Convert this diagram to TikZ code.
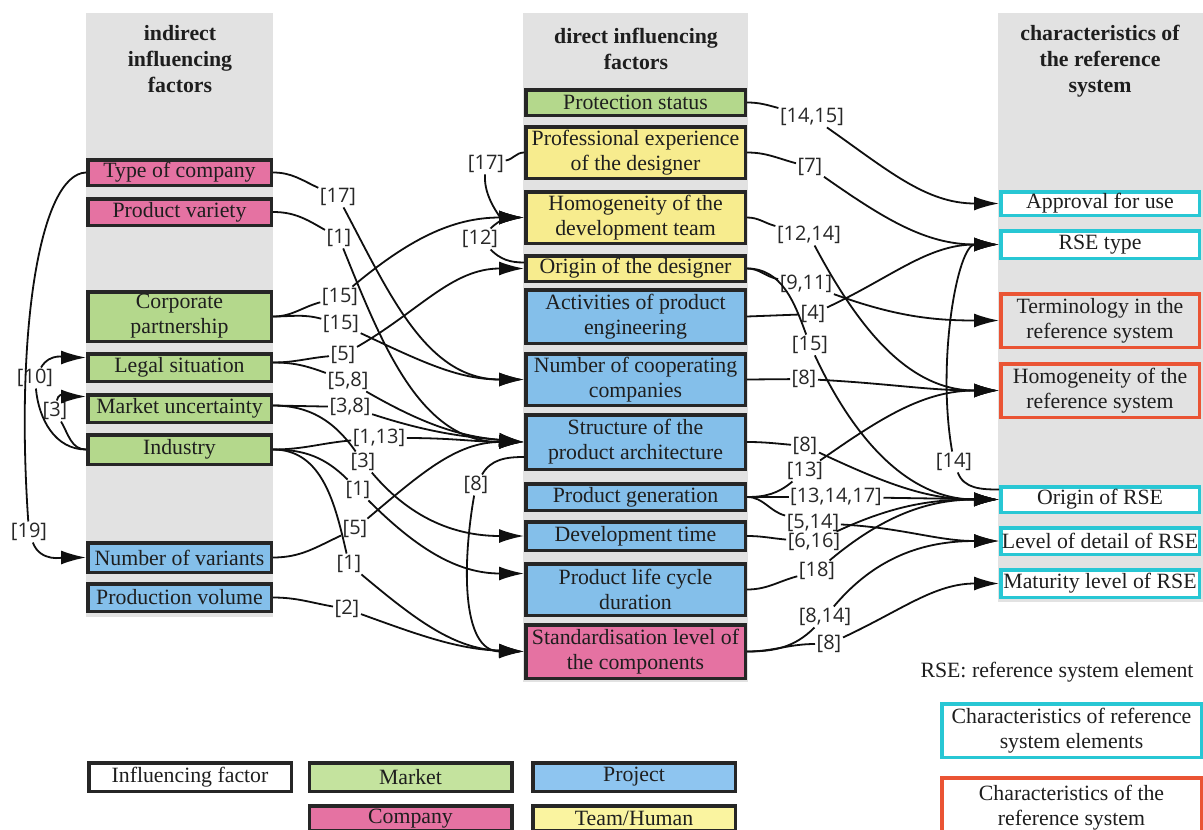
\documentclass[tikz,border=0pt]{standalone}
\usepackage{fontspec}
\setmainfont{Liberation Serif}
\newfontfamily\labfont{Open Sans}
\usetikzlibrary{arrows.meta}
\definecolor{cgreen}{RGB}{180,216,140}
\definecolor{cpink}{RGB}{229,114,162}
\definecolor{cblue}{RGB}{132,191,234}
\definecolor{cyellow}{RGB}{247,236,142}
\definecolor{lgreen}{RGB}{196,227,158}
\definecolor{lblue}{RGB}{142,197,240}
\definecolor{lyellow}{RGB}{250,244,160}
\definecolor{ccyan}{RGB}{40,199,212}
\definecolor{cred}{RGB}{234,84,52}
\definecolor{cgrey}{RGB}{226,226,226}
\definecolor{cborder}{RGB}{38,38,38}
\definecolor{ctext}{RGB}{30,30,30}
\definecolor{clab}{RGB}{40,40,40}
\definecolor{cline}{RGB}{15,15,15}
\tikzset{
  boxtext/.style={font=\fontsize{21.8}{25}\selectfont, text=ctext, align=center, inner sep=0pt},
  fbox/.style={boxtext, draw=cborder, line width=3.5pt},
  lbox/.style={fbox, minimum width=183.5pt},
  mbox/.style={fbox, minimum width=219.5pt},
  cbox/.style={boxtext, draw=ccyan, fill=white, line width=3.5pt, minimum width=198.5pt},
  rbox/.style={boxtext, draw=cred, line width=3.5pt, minimum width=198.5pt},
  legbox/.style={fbox, minimum width=202.5pt, minimum height=28.5pt},
  lab/.style={font=\labfont\fontsize{20}{22}\selectfont, text=clab, inner sep=1.5pt},
  con/.style={draw=cline, line width=1.8pt},
  arr/.style={con, -{Latex[length=25pt,width=14pt]}},
  hdr/.style={font=\bfseries\fontsize{21.8}{26}\selectfont, text=ctext, align=center},
  colbg/.style={fill=cgrey},
}
\begin{document}
\begin{tikzpicture}[x=1pt,y=-1pt]
\useasboundingbox (0,0) rectangle (1203,830);
\fill[white] (0,0) rectangle (1203,830);
\clip (0,0) rectangle (1203,830);
% grey columns
\fill[colbg] (86,13) rectangle (273,617);
\fill[colbg] (523,13) rectangle (748,682);
\fill[colbg] (998,13) rectangle (1203,602);
% headers
\node[hdr] (h1) at (180,59) {indirect\\influencing\\factors};
\node[hdr] (h2) at (636,49) {direct influencing\\factors};
\node[hdr] (h3) at (1100,61) {characteristics of\\the reference\\system};
% left boxes
\node[lbox, fill=cpink, minimum height=25.5pt] (toc) at (179.5,172.5) {Type of company};
\node[lbox, fill=cpink, minimum height=26.5pt] (pv) at (179.5,212) {Product variety};
\node[lbox, fill=cgreen, minimum height=49.5pt] (cp) at (179.5,316.5) {Corporate\\partnership};
\node[lbox, fill=cgreen, minimum height=27.5pt] (ls) at (179.5,367.5) {Legal situation};
\node[lbox, fill=cgreen, minimum height=27.5pt] (mu) at (179.5,408.5) {Market uncertainty};
\node[lbox, fill=cgreen, minimum height=29.5pt] (ind) at (179.5,449.5) {Industry};
\node[lbox, fill=cblue, minimum height=29.5pt] (nv) at (179.5,557.5) {Number of variants};
\node[lbox, fill=cblue, minimum height=27.5pt] (pvol) at (179.5,597.5) {Production volume};
% middle boxes
\node[mbox, fill=cgreen, minimum height=25.5pt] (ps) at (635.5,102.5) {Protection status};
\node[mbox, fill=cyellow, minimum height=51.5pt] (pe) at (635.5,152.5) {Professional experience\\of the designer};
\node[mbox, fill=cyellow, minimum height=51.5pt] (hdt) at (635.5,217.5) {Homogeneity of the\\development team};
\node[mbox, fill=cyellow, minimum height=25.5pt] (od) at (635.5,268.5) {Origin of the designer};
\node[mbox, fill=cblue, minimum height=53.5pt] (ape) at (635.5,316.5) {Activities of product\\engineering};
\node[mbox, fill=cblue, minimum height=51.5pt] (ncc) at (635.5,379.5) {Number of cooperating\\companies};
\node[mbox, fill=cblue, minimum height=54.5pt] (spa) at (635.5,442) {Structure of the\\product architecture};
\node[mbox, fill=cblue, minimum height=26.5pt] (pg) at (635.5,497) {Product generation};
\node[mbox, fill=cblue, minimum height=28.5pt] (dt) at (635.5,536) {Development time};
\node[mbox, fill=cblue, minimum height=51.5pt] (plc) at (635.5,589.5) {Product life cycle\\duration};
\node[mbox, fill=cpink, minimum height=53.5pt] (sl) at (635.5,651.5) {Standardisation level of\\the components};
% right boxes
\node[cbox, minimum height=23.5pt] (afu) at (1100,203.5) {Approval for use};
\node[cbox, minimum height=27.5pt] (rt) at (1100,244.5) {RSE type};
\node[rbox, minimum height=53.5pt] (trs) at (1100,320.5) {Terminology in the\\reference system};
\node[rbox, minimum height=53.5pt] (hrs) at (1100,390.5) {Homogeneity of the\\reference system};
\node[cbox, minimum height=25.5pt] (orse) at (1100,499.5) {Origin of RSE};
\node[cbox, minimum height=26.5pt] (ld) at (1100,541) {Level of detail of RSE};
\node[cbox, minimum height=27.5pt] (ml) at (1100,583.5) {Maturity level of RSE};
% legend
\node[boxtext] (rsenote) at (1057,672) {RSE: reference system element};
\node[cbox, minimum width=259.5pt, minimum height=53.5pt] (lgc) at (1071.5,730.5) {Characteristics of reference\\system elements};
\node[rbox, fill=white, minimum width=259.5pt, minimum height=60pt] (lgr) at (1071.5,808) {Characteristics of the\\reference system};
\node[legbox, fill=white] (lgi) at (190,777) {Influencing factor};
\node[legbox, fill=lgreen] (lgm) at (410.5,777) {Market};
\node[legbox, fill=lblue] (lgp) at (634,777) {Project};
\node[legbox, fill=cpink, minimum height=25pt] (lgco) at (410.5,818.5) {Company};
\node[legbox, fill=lyellow, minimum height=25pt] (lgt) at (634,818.5) {Team/Human};
% labels
\node[lab] (L17) at (338,197) {[17]};
\node[lab] (L1a) at (339,238) {[1]};
\node[lab] (L15a) at (340,297) {[15]};
\node[lab] (L15b) at (341,324) {[15]};
\node[lab] (L5a) at (343,355) {[5]};
\node[lab] (L58) at (348,381) {[5,8]};
\node[lab] (L38) at (350,407) {[3,8]};
\node[lab] (L113) at (379,438) {[1,13]};
\node[lab] (L3) at (363,462) {[3]};
\node[lab] (L1b) at (358,490) {[1]};
\node[lab] (L5b) at (355,529) {[5]};
\node[lab] (L1c) at (349,564) {[1]};
\node[lab] (L2) at (347,609) {[2]};
\node[lab] (L8m) at (476,485) {[8]};
\node[lab] (L17m) at (486,164) {[17]};
\node[lab] (L12m) at (480,239) {[12]};
\node[lab] (L19) at (29,532) {[19]};
\node[lab] (L10) at (35,378) {[10]};
\node[lab] (L3l) at (55,411) {[3]};
\node[lab] (L1415) at (812,117) {[14,15]};
\node[lab] (L7) at (810,167) {[7]};
\node[lab] (L1214) at (809,235) {[12,14]};
\node[lab] (L911) at (806,284) {[9,11]};
\node[lab] (L4) at (813,314) {[4]};
\node[lab] (L15r) at (810,345) {[15]};
\node[lab] (L8a) at (804,379) {[8]};
\node[lab] (L8b) at (805,446) {[8]};
\node[lab] (L13) at (805,471) {[13]};
\node[lab] (L131417) at (836,497) {[13,14,17]};
\node[lab] (L514) at (813,523) {[5,14]};
\node[lab] (L616) at (814,542) {[6,16]};
\node[lab] (L18) at (817,571) {[18]};
\node[lab] (L814) at (825,617) {[8,14]};
\node[lab] (L8c) at (829,644) {[8]};
\node[lab] (L14) at (954,462) {[14]};
% left -> middle connectors
\draw[con] (toc.east) to[out=0,in=155] (L17);
\draw[arr] (L17) to[out=-62,in=180] (ncc.west);
\draw[con] (pv.east) to[out=0,in=150] (L1a);
\draw[arr] (L1a) to[out=-68,in=180] (spa.west);
\draw[con] (cp.east) to[out=0,in=195] (L15a);
\draw[con] (cp.east) to[out=0,in=165] (L15b);
\draw[arr] (L15a) to[out=40,in=180] (hdt.west);
\draw[arr] (L15b) to[out=-25,in=180] (ncc.west);
\draw[con] ([yshift=5pt]ls.east) to[out=0,in=185] (L5a);
\draw[con] ([yshift=5pt]ls.east) to[out=0,in=160] (L58);
\draw[arr] (L5a) to[out=30,in=180] (od.west);
\draw[arr] (L58) to[out=-30,in=175] (spa.west);
\draw[con] ([yshift=3pt]mu.east) to (L38);
\draw[con] ([yshift=3pt]mu.east) to[out=0,in=125] (L3);
\draw[arr] (L38) to[out=-18,in=175] (spa.west);
\draw[arr] (L3) to[out=-50,in=180] (dt.west);
\draw[con] (ind.east) to[out=0,in=185] (L113);
\draw[con] (ind.east) to[out=0,in=135] (L1b);
\draw[con] (ind.east) to[out=0,in=103] (L1c);
\draw[arr] (L113) to[out=0,in=180] (spa.west);
\draw[arr] (L1b) to[out=-45,in=180] ([yshift=16pt]plc.west);
\draw[arr] (L1c) to[out=-40,in=178] (sl.west);
\draw[con] (nv.east) to[out=0,in=-155] (L5b);
\draw[arr] (L5b) to[out=40,in=180] (spa.west);
\draw[con] (pvol.east) to[out=0,in=170] (L2);
\draw[arr] (L2) to[out=-20,in=178] (sl.west);
\draw[con] ([yshift=-15pt]spa.west) to[out=180,in=60] (L8m);
\draw[arr] (L8m) to[out=-100,in=180] (sl.west);
% middle left side
\draw[con] (pe.west) to[out=180,in=10] (L17m);
\draw[arr] (L17m) to[out=-95,in=180] (hdt.west);
\draw[con] ([yshift=6pt]od.west) to[out=180,in=-45] (L12m);
\draw[arr] (L12m) to[out=45,in=180] (hdt.west);
% middle -> right connectors
\draw[con] (ps.east) to[out=0,in=165] (L1415);
\draw[arr] (L1415) to[out=-35,in=180] (afu.west);
\draw[con] (pe.east) to[out=0,in=165] (L7);
\draw[arr] (L7) to[out=-35,in=180] (rt.west);
\draw[con] (hdt.east) to[out=0,in=165] (L1214);
\draw[arr] (L1214) to[out=-62,in=180] (hrs.west);
\draw[con] (od.east) to[out=0,in=170] (L911);
\draw[con] (od.east) to[out=0,in=110] (L15r);
\draw[arr] (L911) to[out=-20,in=180] (trs.west);
\draw[arr] (L15r) to[out=-65,in=180] (orse.west);
\draw[con] (ape.east) to (L4);
\draw[arr] (L4) to[out=25,in=180] (rt.west);
\draw[con] (ncc.east) to (L8a);
\draw[arr] (L8a) to[out=-3,in=180] (hrs.west);
\draw[con] (spa.east) to[out=0,in=175] (L8b);
\draw[arr] (L8b) to[out=-25,in=180] (orse.west);
\draw[con] (pg.east) to[out=0,in=-140] (L13);
\draw[con] (pg.east) to (L131417);
\draw[con] (pg.east) to[out=0,in=165] (L514);
\draw[arr] (L13) to[out=35,in=180] (hrs.west);
\draw[arr] (L131417) to (orse.west);
\draw[arr] (L514) to[out=-3,in=180] (ld.west);
\draw[con] (dt.east) to[out=0,in=175] (L616);
\draw[arr] (L616) to[out=25,in=180] (orse.west);
\draw[con] (plc.east) to[out=0,in=-165] (L18);
\draw[arr] (L18) to[out=40,in=180] (orse.west);
\draw[con] (sl.east) to[out=0,in=-135] (L814);
\draw[con] (sl.east) to[out=0,in=180] (L8c);
\draw[arr] (L814) to[out=50,in=180] (ld.west);
\draw[arr] (L8c) to[out=25,in=180] (ml.west);
\draw[con] ([yshift=10pt]orse.west) to[out=180,in=-70] (L14);
\draw[arr] (L14) to[out=100,in=180,out looseness=1.1,in looseness=0.5] (rt.west);
% left side connectors
\draw[con] (toc.west) .. controls (40,174) and (15,330) .. (L19);
\draw[arr] (L19) to[out=-70,in=180] (nv.west);
\draw[con] (ind.west) to[out=180,in=-85] (L10);
\draw[con] (ind.west) to[out=180,in=-60] (L3l);
\draw[arr] (L10) to[out=60,in=180] ([yshift=10pt]ls.west);
\draw[arr] (L3l) to[out=80,in=180] ([yshift=12pt]mu.west);
\end{tikzpicture}
\end{document}
